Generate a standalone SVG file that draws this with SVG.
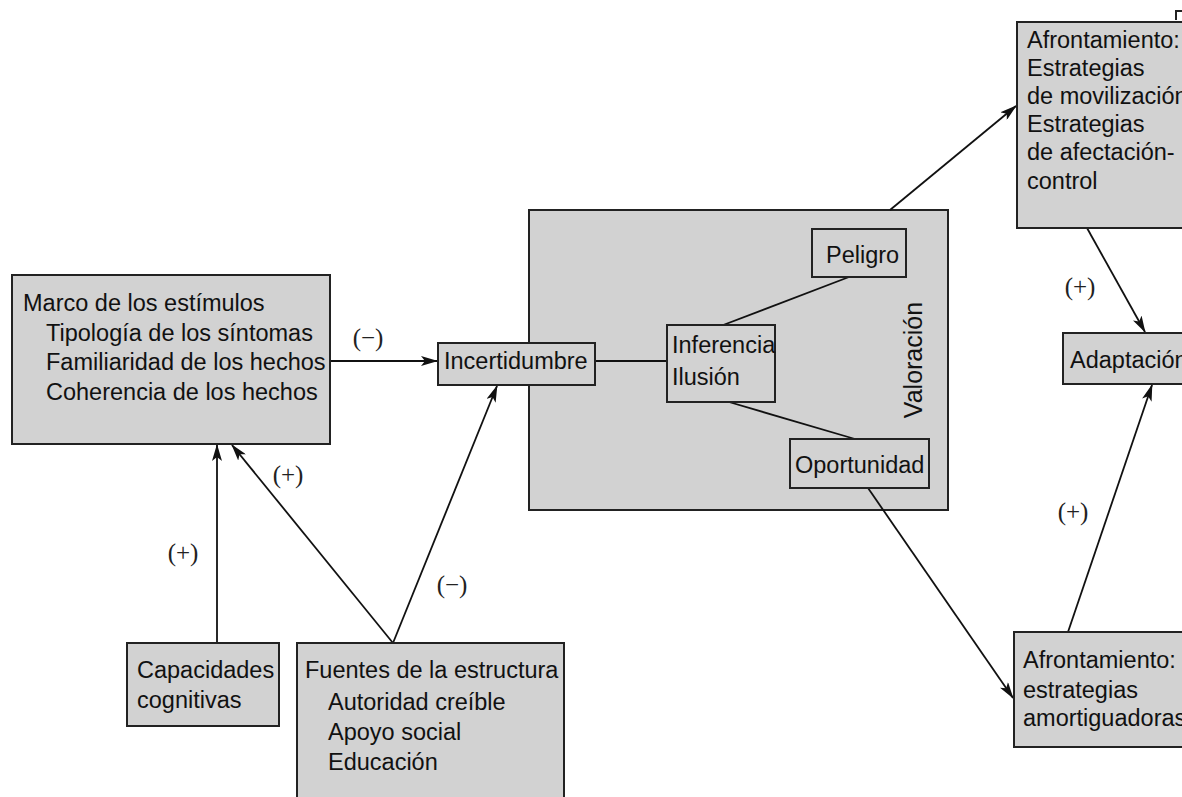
<svg xmlns="http://www.w3.org/2000/svg" width="1182" height="797" viewBox="0 0 1182 797">
<defs>
<marker id="ah" viewBox="0 0 17 10" refX="16" refY="5" markerWidth="17" markerHeight="10" orient="auto" markerUnits="userSpaceOnUse">
<path d="M0,0 L17,5 L0,10 L4,5 z" fill="#111"/>
</marker>
<style>
.box{fill:#d2d2d2;stroke:#222;stroke-width:2}
.t{font-family:"Liberation Sans",Arial,sans-serif;font-size:23.5px;fill:#111}
.lbl{font-family:"Liberation Serif","Times New Roman",serif;font-size:25px;fill:#222;text-anchor:middle}
.c{fill:none;stroke:#111;stroke-width:1.8}
</style>
</defs>
<rect width="1182" height="797" fill="#fff"/>

<g id="valoracion">
<rect class="box" x="529" y="210" width="419" height="300"/>
<text class="t" transform="translate(922,360) rotate(-90)" text-anchor="middle" style="font-size:25px">Valoración</text>
</g>

<g id="connectors">
<path class="c" d="M330,361 L437,361" stroke-width="2.6" marker-end="url(#ah)"/>
<path class="c" d="M595,361 L667,361"/>
<path class="c" d="M718,327 L849,277"/>
<path class="c" d="M729,402 L855,439"/>
<path class="c" d="M217,643 L217,445" marker-end="url(#ah)"/>
<path class="c" d="M393,643 L232,445" marker-end="url(#ah)"/>
<path class="c" d="M393,643 L497,386" marker-end="url(#ah)"/>
<path class="c" d="M890,210 L1016,106" marker-end="url(#ah)"/>
<path class="c" d="M868,488 L1013,698" marker-end="url(#ah)"/>
<path class="c" d="M1087,228 L1145,332" marker-end="url(#ah)"/>
<path class="c" d="M1068,632 L1152,385" marker-end="url(#ah)"/>
<text class="lbl" x="368" y="346">(−)</text>
<text class="lbl" x="288" y="483">(+)</text>
<text class="lbl" x="183" y="561">(+)</text>
<text class="lbl" x="452" y="593">(−)</text>
<text class="lbl" x="1080" y="295">(+)</text>
<text class="lbl" x="1073" y="520">(+)</text>
</g>

<g id="marco">
<rect class="box" x="12" y="275" width="318" height="169"/>
<text class="t" x="23" y="311">Marco de los estímulos</text>
<text class="t" x="46" y="341">Tipología de los síntomas</text>
<text class="t" x="46" y="370">Familiaridad de los hechos</text>
<text class="t" x="46" y="400">Coherencia de los hechos</text>
</g>

<g id="incertidumbre">
<rect class="box" x="438" y="343" width="157" height="42"/>
<text class="t" x="444" y="369">Incertidumbre</text>
</g>

<g id="inferencia">
<rect class="box" x="667" y="325" width="108" height="77"/>
<text class="t" x="672" y="353">Inferencia</text>
<text class="t" x="672" y="385">Ilusión</text>
</g>

<g id="peligro">
<rect class="box" x="812" y="229" width="94" height="48"/>
<text class="t" x="826" y="263">Peligro</text>
</g>

<g id="oportunidad">
<rect class="box" x="790" y="439" width="139" height="49"/>
<text class="t" x="795" y="473">Oportunidad</text>
</g>

<g id="capacidades">
<rect class="box" x="127" y="643" width="152" height="83"/>
<text class="t" x="137" y="678">Capacidades</text>
<text class="t" x="137" y="708">cognitivas</text>
</g>

<g id="fuentes">
<rect class="box" x="297" y="643" width="267" height="170"/>
<text class="t" x="305" y="678">Fuentes de la estructura</text>
<text class="t" x="328" y="710">Autoridad creíble</text>
<text class="t" x="328" y="740">Apoyo social</text>
<text class="t" x="328" y="770">Educación</text>
</g>

<g id="afrontamiento-movilizacion">
<rect class="box" x="1017" y="22" width="180" height="206"/>
<text class="t" x="1027" y="48">Afrontamiento:</text>
<text class="t" x="1027" y="76">Estrategias</text>
<text class="t" x="1027" y="104">de movilización</text>
<text class="t" x="1027" y="132">Estrategias</text>
<text class="t" x="1027" y="160">de afectación-</text>
<text class="t" x="1027" y="189">control</text>
<path d="M1175,11 L1182,11 M1176,11 L1176,20" fill="none" stroke="#222" stroke-width="2"/>
</g>

<g id="adaptacion">
<rect class="box" x="1063" y="333" width="140" height="51"/>
<text class="t" x="1070" y="368">Adaptación</text>
</g>

<g id="afrontamiento-amortiguadoras">
<rect class="box" x="1014" y="632" width="190" height="115"/>
<text class="t" x="1023" y="668">Afrontamiento:</text>
<text class="t" x="1023" y="698">estrategias</text>
<text class="t" x="1023" y="726">amortiguadoras</text>
</g>
</svg>
